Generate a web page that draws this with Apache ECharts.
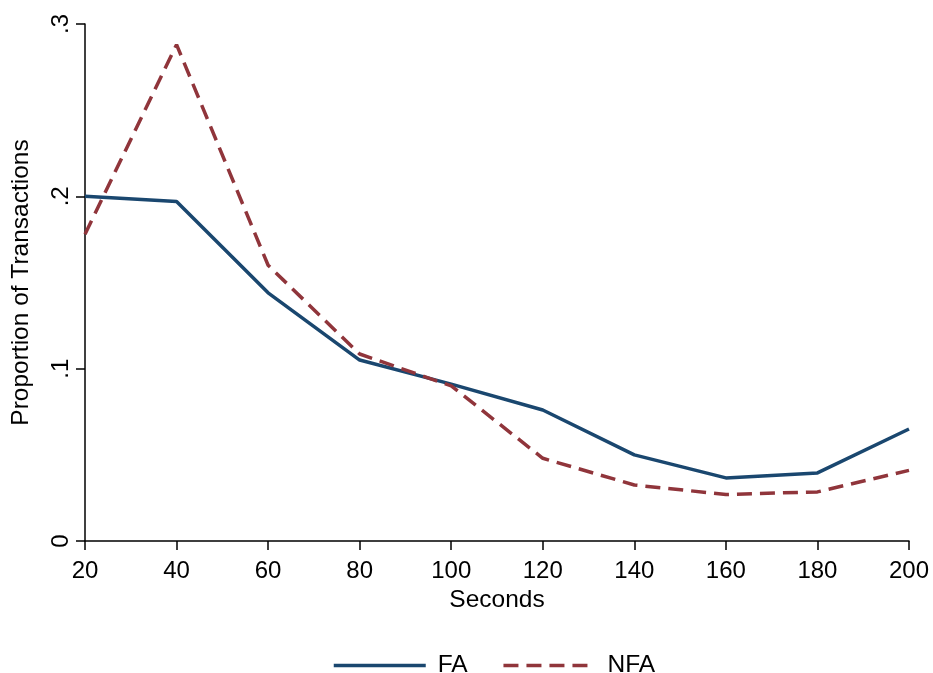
<!DOCTYPE html>
<html>
<head>
<meta charset="utf-8">
<script src="https://cdn.jsdelivr.net/npm/echarts@6/dist/echarts.min.js"></script>
<style>
html,body{margin:0;padding:0;background:#fff;}
#chart{width:933px;height:673px;}
</style>
</head>
<body>
<div id="chart"></div>
<script>
const seconds = [20, 40, 60, 80, 100, 120, 140, 160, 180, 200];
const faValues = [0.200, 0.197, 0.144, 0.105, 0.091, 0.076, 0.050, 0.0366, 0.0395, 0.065];
const nfaValues = [0.178, 0.288, 0.160, 0.1085, 0.090, 0.048, 0.0325, 0.027, 0.0285, 0.041];
const yTickLabels = {0: '0', 0.1: '.1', 0.2: '.2', 0.3: '.3'};
const seriesNames = ['FA', 'NFA'];

const font = 'Liberation Sans, Arial, sans-serif';
const chart = echarts.init(document.getElementById('chart'));
chart.setOption({
  backgroundColor: '#fff',
  animation: false,
  grid: {left: 85, right: 24, top: 24, bottom: 132, containLabel: false},
  xAxis: {
    type: 'value', min: 20, max: 200, interval: 20,
    name: 'Seconds', nameLocation: 'middle', nameGap: 47,
    nameTextStyle: {fontFamily: font, fontSize: 24.5, color: '#000'},
    axisLine: {show: true, onZero: false, lineStyle: {color: '#000', width: 1.5}},
    axisTick: {show: true, length: 9, lineStyle: {color: '#000', width: 1.5}},
    axisLabel: {fontFamily: font, fontSize: 24, color: '#000', margin: 18},
    splitLine: {show: false}
  },
  yAxis: {
    type: 'value', min: 0, max: 0.3, interval: 0.1,
    name: 'Proportion of Transactions', nameLocation: 'middle', nameGap: 51,
    nameTextStyle: {fontFamily: font, fontSize: 24.5, color: '#000'},
    axisLine: {show: true, lineStyle: {color: '#000', width: 1.5}},
    axisTick: {show: true, length: 9, lineStyle: {color: '#000', width: 1.5}},
    axisLabel: {
      fontFamily: font, fontSize: 24, color: '#000', margin: 12, rotate: 90,
      formatter: function (v) { const k = Math.round(v * 10) / 10; return yTickLabels[k] !== undefined ? yTickLabels[k] : String(v); }
    },
    splitLine: {show: false}
  },
  legend: {
    top: 648, left: 327,
    itemWidth: 92, itemHeight: 24, itemGap: 34,
    itemStyle: {opacity: 0, borderWidth: 0},
    lineStyle: {width: 3.5},
    textStyle: {fontFamily: font, fontSize: 24.5, color: '#000', padding: [0, 0, 0, 7]},
    data: seriesNames
  },
  series: [
    {
      name: seriesNames[0], type: 'line', symbol: 'none', showSymbol: false,
      data: seconds.map((s, i) => [s, faValues[i]]),
      lineStyle: {color: '#1a476f', width: 3.5, type: 'solid'},
      itemStyle: {color: '#1a476f'}
    },
    {
      name: seriesNames[1], type: 'line', symbol: 'none', showSymbol: false,
      data: seconds.map((s, i) => [s, nfaValues[i]]),
      lineStyle: {color: '#90353b', width: 3.5, type: [15, 8]},
      itemStyle: {color: '#90353b'}
    }
  ]
});
</script>
</body>
</html>
